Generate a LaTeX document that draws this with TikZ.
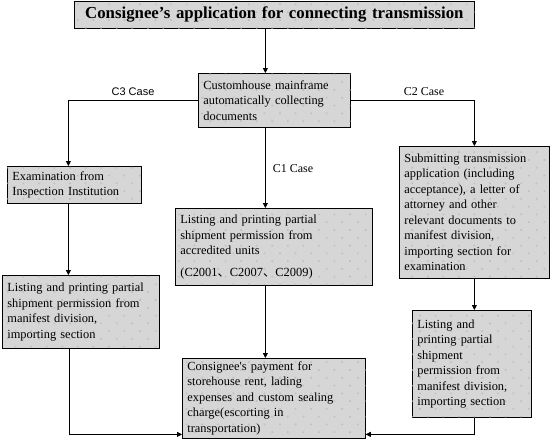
\documentclass[tikz,border=0pt]{standalone}
\usepackage{fontspec}
\setmainfont{Liberation Serif}
\setsansfont{Liberation Sans}
\newfontfamily\cjkfont{Noto Sans CJK SC}
\usetikzlibrary{arrows.meta,patterns.meta}

\definecolor{boxgray}{RGB}{214,214,214}
\definecolor{dotgray}{RGB}{190,190,190}

\tikzset{every picture/.style={line width=0.75pt}}
\tikzset{
  stagebox/.style={draw=black, fill=boxgray, anchor=north west, align=left,
    inner xsep=5pt, inner ysep=2pt,
    font=\fontsize{12.4}{15.5}\selectfont,
    postaction={pattern={Dots[radius=1.1pt,distance=11pt,angle=45]}, pattern color=dotgray}},
  arr/.style={-{Triangle[length=5pt,width=5pt]}},
  caselabel/.style={inner sep=0.75pt, font=\fontsize{12}{14}\selectfont},
}

\begin{document}
\begin{tikzpicture}[x=1pt,y=1pt,yscale=-1,xscale=1]
\useasboundingbox (0,0) rectangle (550,440);

% Title Node
\node [stagebox, align=center, text width=390, minimum height=27.5, font=\fontsize{16.8}{18}\selectfont\bfseries] (title) at (74,0.5) {Consignee’s application for connecting transmission};
% Text Node
\node [stagebox, text width=142, minimum height=54] (main) at (198,73) {Customhouse mainframe\\automatically collecting\\documents};
% Text Node
\node [stagebox, text width=124, minimum height=37] (exam) at (7,166) {Examination from\\Inspection Institution};
% Text Node
\node [stagebox, text width=147, minimum height=73] (c3list) at (2,275) {Listing and printing partial\\shipment permission from\\manifest division,\\importing section};
% Text Node
\node [stagebox, text width=187, minimum height=77] (c1list) at (175,208) {Listing and printing partial\\shipment permission from\\accredited units\\[6pt](C2001{\cjkfont 、}C2007{\cjkfont 、}C2009)};
% Text Node
\node [stagebox, text width=140, minimum height=132] (sub) at (399,146) {Submitting transmission\\application (including\\acceptance), a letter of\\attorney and other\\relevant documents to\\manifest division,\\importing section for\\examination};
% Text Node
\node [stagebox, text width=109, minimum height=107] (c2list) at (412,310) {Listing and\\printing partial\\shipment\\permission from\\manifest division,\\importing section};
% Text Node
\node [stagebox, text width=173, minimum height=80] (pay) at (182,358) {Consignee\textquotesingle s payment for\\storehouse rent, lading\\expenses and custom sealing\\charge(escorting in\\transportation)};

% Case labels
\node [caselabel, font=\sffamily\fontsize{11}{13}\selectfont] (c3case) at (133,92) {C3 Case};
\node [caselabel] (c2case) at (424,92) {C2 Case};
\node [caselabel] (c1case) at (293,169) {C1 Case};

%Straight Lines
\draw [arr] ([xshift=-9]title.south) -- ([xshift=-9]main.north);
\draw [arr] (main.west) -| ([xshift=-6]exam.north);
\draw [arr] (main.east) -| (sub.north);
\draw [arr] ([xshift=-9]main.south) -- ([xshift=-8.5]c1list.north);
\draw [arr] ([xshift=-6]exam.south) -- ([xshift=-12.5]c3list.north);
\draw [arr] (sub.south) -- ([xshift=2.5]c2list.north);
\draw [arr] ([xshift=-8.5]c1list.south) -- ([xshift=-8.5]pay.north);
\draw [arr] ([xshift=-11.5]c3list.south) |- ([yshift=36]pay.west);
\draw [arr] ([xshift=2.5]c2list.south) |- ([yshift=36]pay.east);

\end{tikzpicture}
\end{document}
